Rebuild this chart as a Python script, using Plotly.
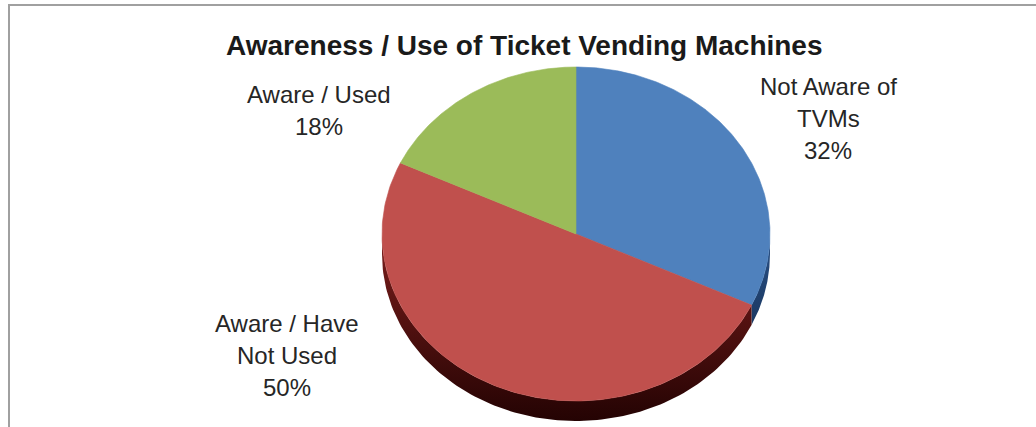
import numpy as np
import plotly.graph_objects as go

# Survey result: awareness / use of ticket vending machines
categories = ["Not Aware of<br>TVMs", "Aware / Have<br>Not Used", "Aware / Used"]
shares = [32, 50, 18]

# Colours: top face and side wall (upper, lower) per slice
face_colors = ["#4f81bd", "#c0504d", "#9bbb59"]
side_colors = [("#2a5186", "#0b1f3d"), ("#7c1e1c", "#240303"), ("#6a8a35", "#34461a")]

# Canvas and tilted-pie geometry (pixel units)
W, H = 1036, 427
CX, CY, RX, RY, DEPTH = 576, 234, 194, 167, 20

# Label anchor (centre x, top-line y) for each slice
label_pos = [(828, 86), (287, 323), (319, 94)]
LINE_GAP = 32

TITLE = "Awareness / Use of Ticket Vending Machines"


def ellipse(theta_deg, dy=0.0):
    """Point on the pie rim; angle measured clockwise from 12 o'clock."""
    t = np.radians(theta_deg)
    return CX + RX * np.sin(t), CY - RY * np.cos(t) + dy


fig = go.Figure()

total = float(sum(shares))
bounds = np.concatenate([[0.0], np.cumsum(shares) / total * 360.0])

# side walls first (only the front half of the rim is visible)
for i in range(len(shares)):
    a0, a1 = max(bounds[i], 90.0), min(bounds[i + 1], 270.0)
    if a1 <= a0:
        continue
    th = np.linspace(a0, a1, 120)
    xt, yt = ellipse(th)
    xb, yb = ellipse(th[::-1], DEPTH)
    xs = np.concatenate([xt, xb, xt[:1]])
    ys = np.concatenate([yt, yb, yt[:1]])
    top, bottom = side_colors[i]
    fig.add_trace(go.Scatter(
        x=xs, y=ys, mode="lines", fill="toself",
        line=dict(width=0, color=bottom),
        fillcolor=bottom,
        fillgradient=dict(type="vertical", start=CY, stop=CY + RY + DEPTH,
                          colorscale=[[0, top], [1, bottom]]),
        hoverinfo="skip", showlegend=False))

# top faces
for i in range(len(shares)):
    th = np.linspace(bounds[i], bounds[i + 1], 200)
    xa, ya = ellipse(th)
    xs = np.concatenate([[CX], xa, [CX]])
    ys = np.concatenate([[CY], ya, [CY]])
    fig.add_trace(go.Scatter(
        x=xs, y=ys, mode="lines", fill="toself",
        line=dict(width=0.6, color=face_colors[i]),
        fillcolor=face_colors[i],
        name=categories[i].replace("<br>", " "),
        hoverinfo="name", showlegend=False))

# data labels: category lines followed by the percentage
annotations = []
for i, share in enumerate(shares):
    lines = categories[i].split("<br>") + [f"{share}%"]
    lx, ly = label_pos[i]
    for k, txt in enumerate(lines):
        annotations.append(dict(
            x=lx, y=ly + k * LINE_GAP, xref="x", yref="y",
            text=txt, showarrow=False, xanchor="center", yanchor="middle",
            font=dict(family="Liberation Sans, Arial, sans-serif", size=24,
                      color="#262626")))

annotations.append(dict(
    x=524, y=45, xref="x", yref="y", text=f"<b>{TITLE}</b>",
    showarrow=False, xanchor="center", yanchor="middle",
    font=dict(family="Liberation Sans, Arial, sans-serif",
              size=28, color="#1a1a1a")))

# frame lines along the top and left edge
shapes = [
    dict(type="line", xref="x", yref="y", x0=8, x1=W, y0=5, y1=5,
         line=dict(color="#a0a0a0", width=2)),
    dict(type="line", xref="x", yref="y", x0=9, x1=9, y0=4, y1=H,
         line=dict(color="#a0a0a0", width=2)),
]

fig.update_layout(
    width=W, height=H,
    margin=dict(l=0, r=0, t=0, b=0),
    paper_bgcolor="white", plot_bgcolor="white",
    xaxis=dict(range=[0, W], visible=False, fixedrange=True),
    yaxis=dict(range=[H, 0], visible=False, fixedrange=True),
    annotations=annotations, shapes=shapes,
)

fig.write_html("out.html")
